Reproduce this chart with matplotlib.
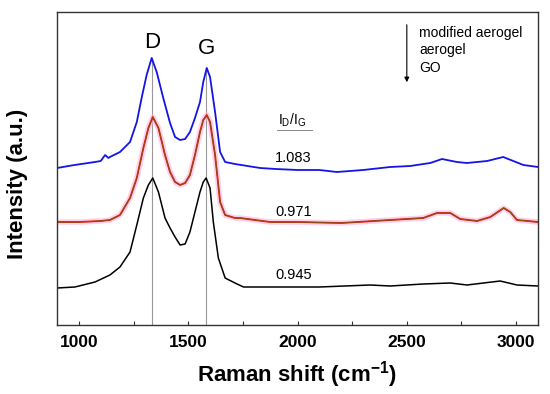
import matplotlib
matplotlib.use('Agg')
from matplotlib import pyplot as plt

plt.rcParams['font.family'] = ['Liberation Sans', 'DejaVu Sans']
plt.rcParams['mathtext.fontset'] = 'custom'
plt.rcParams['mathtext.rm'] = 'Liberation Sans'
plt.rcParams['mathtext.bf'] = 'Liberation Sans:bold'

# Raman spectra, intensity (arbitrary units, offset stacked)
wn_mod = [900, 980, 1074, 1100, 1120, 1135, 1142, 1188, 1234, 1265, 1287, 1310, 1333, 1356,
          1386, 1417, 1440, 1463, 1486, 1508, 1531, 1554, 1569, 1585, 1600, 1623, 1646,
          1669, 1714, 1829, 1900, 2000, 2100, 2180, 2300, 2424, 2515, 2607, 2661, 2729,
          2775, 2867, 2941, 2987, 3033, 3100]
int_mod = [157, 160, 163, 164, 170, 167, 168, 173, 183, 203, 227, 250, 267, 253,
           227, 202, 188, 185, 186, 193, 207, 223, 243, 257, 248, 213, 173,
           163, 161, 157, 156, 155, 155, 153, 155, 158, 159, 162, 166, 163,
           162, 164, 168, 164, 160, 158]

wn_aero = [900, 1000, 1100, 1142, 1188, 1234, 1265, 1295, 1318, 1338, 1364, 1394, 1417,
           1440, 1463, 1486, 1508, 1531, 1554, 1569, 1585, 1600, 1623, 1646, 1669, 1714,
           1737, 1875, 2000, 2200, 2424, 2575, 2638, 2699, 2744, 2821, 2882, 2943, 2973,
           3004, 3100]
int_aero = [103, 103, 104, 105, 110, 127, 147, 177, 197, 208, 197, 170, 153,
            143, 140, 142, 150, 170, 193, 205, 210, 203, 170, 123, 110, 107,
            107, 103, 103, 102, 105, 107, 112, 112, 106, 104, 108, 117, 113,
            105, 103]

wn_go = [900, 982, 1074, 1142, 1188, 1234, 1265, 1295, 1318, 1338, 1364, 1394, 1417,
         1440, 1463, 1486, 1508, 1531, 1554, 1569, 1582, 1600, 1615, 1638, 1669, 1714,
         1753, 1900, 2100, 2332, 2424, 2575, 2699, 2775, 2927, 3004, 3100]
int_go = [37, 38, 43, 50, 58, 73, 100, 127, 140, 147, 133, 107, 97,
          88, 80, 81, 93, 113, 133, 143, 147, 137, 103, 67, 47, 42,
          38, 38, 38, 40, 39, 41, 42, 40, 44, 40, 39]

ratios = ['1.083', '0.971', '0.945']
samples = ['modified aerogel', 'aerogel', 'GO']
d_band = 1334
g_band = 1582

fig = plt.figure(figsize=(5.5, 3.94), dpi=100)
ax = fig.add_axes([57/550, 69/394, 481/550, 313/394])

ax.plot([d_band, d_band], [0, 267], color='#999999', lw=0.8)
ax.plot([g_band, g_band], [0, 257], color='#999999', lw=0.8)

ax.plot(wn_mod, int_mod, color='#1414e6', lw=1.3)
ax.plot(wn_aero, int_aero, color='#ffb0e0', lw=4, alpha=0.6)
ax.plot(wn_aero, int_aero, color='#e01a00', lw=1.3)
ax.plot(wn_aero, int_aero, color='#7a5a20', lw=0.6)
ax.plot(wn_go, int_go, color='black', lw=1.1)

ax.set_xlim(900, 3100)
ax.set_ylim(0, 313)
ax.set_xticks([1000, 1500, 2000, 2500, 3000])
ax.set_xticks([1250, 1750, 2250, 2750], minor=True)
ax.set_yticks([])
ax.tick_params(axis='x', which='both', direction='in', length=3, width=0.8, color='#333333')
ax.tick_params(axis='x', which='major', labelsize=12.5, pad=7)
for lab in ax.get_xticklabels():
    lab.set_fontweight('bold')
for sp in ax.spines.values():
    sp.set_color('#333333')
    sp.set_linewidth(1.0)

fig.text(297/550, 1 - 375/394, r'Raman shift (cm$^{\mathbf{-1}}$)', fontsize=16,
         fontweight='bold', ha='center', va='center')
fig.text(18/550, 1 - 184/394, 'Intensity (a.u.)', fontsize=16, fontweight='bold',
         rotation=90, ha='center', va='center')

ax.text(d_band, 283, 'D', fontsize=16, ha='center', va='center')
ax.text(g_band + 4, 277, 'G', fontsize=16, ha='center', va='center')

ax.text(1975, 205, r'$\mathregular{I_D/I_G}$', fontsize=10, ha='center', va='center')
ax.plot([1906, 2066], [195, 195], color='#888888', lw=0.7)
for r, y in zip(ratios, [167, 113, 50]):
    ax.text(1897, y, r, fontsize=10.5, ha='left', va='center')

for s, y in zip(samples, [292, 275, 257]):
    ax.text(2556, y, s, fontsize=10, ha='left', va='center')
ax.annotate('', xy=(2500, 240), xytext=(2500, 303),
            arrowprops=dict(arrowstyle='-|>', color='black', lw=0.8, mutation_scale=7))

fig.savefig('out.png', dpi=100)
